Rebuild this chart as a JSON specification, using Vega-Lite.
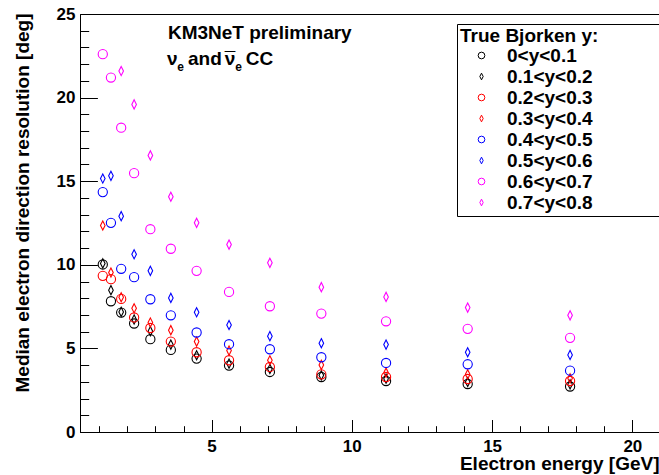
{
  "$schema": "https://vega.github.io/schema/vega-lite/v6.json",
  "width": 579,
  "height": 418,
  "autosize": {"type": "none"},
  "padding": {"left": 80, "top": 14, "right": 0, "bottom": 43},
  "background": "white",
  "config": {
    "view": {"stroke": "black", "strokeWidth": 1},
    "font": "Liberation Sans",
    "axis": {"labelFont": "Liberation Sans", "titleFont": "Liberation Sans", "labelFontWeight": "bold", "titleFontWeight": "bold", "labelColor": "black", "titleColor": "black", "tickColor": "black", "domainColor": "black", "grid": false, "labelFontSize": 17, "titleFontSize": 19}
  },
  "datasets": {
    "pts": [
      {"E": 1.122, "res": 10.02, "cat": "0<y<0.1"},
      {"E": 1.413, "res": 7.82, "cat": "0<y<0.1"},
      {"E": 1.778, "res": 7.14, "cat": "0<y<0.1"},
      {"E": 2.239, "res": 6.49, "cat": "0<y<0.1"},
      {"E": 2.818, "res": 5.55, "cat": "0<y<0.1"},
      {"E": 3.548, "res": 4.91, "cat": "0<y<0.1"},
      {"E": 4.467, "res": 4.39, "cat": "0<y<0.1"},
      {"E": 5.623, "res": 3.97, "cat": "0<y<0.1"},
      {"E": 7.079, "res": 3.59, "cat": "0<y<0.1"},
      {"E": 8.913, "res": 3.29, "cat": "0<y<0.1"},
      {"E": 11.22, "res": 3.05, "cat": "0<y<0.1"},
      {"E": 14.13, "res": 2.87, "cat": "0<y<0.1"},
      {"E": 17.78, "res": 2.72, "cat": "0<y<0.1"},
      {"E": 1.122, "res": 10.08, "cat": "0.1<y<0.2"},
      {"E": 1.413, "res": 8.48, "cat": "0.1<y<0.2"},
      {"E": 1.778, "res": 7.18, "cat": "0.1<y<0.2"},
      {"E": 2.239, "res": 6.73, "cat": "0.1<y<0.2"},
      {"E": 2.818, "res": 6.03, "cat": "0.1<y<0.2"},
      {"E": 3.548, "res": 5.23, "cat": "0.1<y<0.2"},
      {"E": 4.467, "res": 4.59, "cat": "0.1<y<0.2"},
      {"E": 5.623, "res": 4.09, "cat": "0.1<y<0.2"},
      {"E": 7.079, "res": 3.77, "cat": "0.1<y<0.2"},
      {"E": 8.913, "res": 3.39, "cat": "0.1<y<0.2"},
      {"E": 11.22, "res": 3.19, "cat": "0.1<y<0.2"},
      {"E": 14.13, "res": 2.99, "cat": "0.1<y<0.2"},
      {"E": 17.78, "res": 2.85, "cat": "0.1<y<0.2"},
      {"E": 1.122, "res": 9.34, "cat": "0.2<y<0.3"},
      {"E": 1.413, "res": 9.14, "cat": "0.2<y<0.3"},
      {"E": 1.778, "res": 7.96, "cat": "0.2<y<0.3"},
      {"E": 2.239, "res": 6.85, "cat": "0.2<y<0.3"},
      {"E": 2.818, "res": 6.22, "cat": "0.2<y<0.3"},
      {"E": 3.548, "res": 5.41, "cat": "0.2<y<0.3"},
      {"E": 4.467, "res": 4.77, "cat": "0.2<y<0.3"},
      {"E": 5.623, "res": 4.29, "cat": "0.2<y<0.3"},
      {"E": 7.079, "res": 3.89, "cat": "0.2<y<0.3"},
      {"E": 8.913, "res": 3.45, "cat": "0.2<y<0.3"},
      {"E": 11.22, "res": 3.29, "cat": "0.2<y<0.3"},
      {"E": 14.13, "res": 3.17, "cat": "0.2<y<0.3"},
      {"E": 17.78, "res": 3.05, "cat": "0.2<y<0.3"},
      {"E": 1.122, "res": 12.35, "cat": "0.3<y<0.4"},
      {"E": 1.413, "res": 9.54, "cat": "0.3<y<0.4"},
      {"E": 1.778, "res": 8.06, "cat": "0.3<y<0.4"},
      {"E": 2.239, "res": 7.40, "cat": "0.3<y<0.4"},
      {"E": 2.818, "res": 6.55, "cat": "0.3<y<0.4"},
      {"E": 3.548, "res": 6.09, "cat": "0.3<y<0.4"},
      {"E": 4.467, "res": 5.41, "cat": "0.3<y<0.4"},
      {"E": 5.623, "res": 4.87, "cat": "0.3<y<0.4"},
      {"E": 7.079, "res": 4.29, "cat": "0.3<y<0.4"},
      {"E": 8.913, "res": 4.01, "cat": "0.3<y<0.4"},
      {"E": 11.22, "res": 3.55, "cat": "0.3<y<0.4"},
      {"E": 14.13, "res": 3.45, "cat": "0.3<y<0.4"},
      {"E": 17.78, "res": 3.21, "cat": "0.3<y<0.4"},
      {"E": 1.122, "res": 14.35, "cat": "0.4<y<0.5"},
      {"E": 1.413, "res": 12.51, "cat": "0.4<y<0.5"},
      {"E": 1.778, "res": 9.76, "cat": "0.4<y<0.5"},
      {"E": 2.239, "res": 9.26, "cat": "0.4<y<0.5"},
      {"E": 2.818, "res": 7.94, "cat": "0.4<y<0.5"},
      {"E": 3.548, "res": 6.98, "cat": "0.4<y<0.5"},
      {"E": 4.467, "res": 5.95, "cat": "0.4<y<0.5"},
      {"E": 5.623, "res": 5.25, "cat": "0.4<y<0.5"},
      {"E": 7.079, "res": 4.95, "cat": "0.4<y<0.5"},
      {"E": 8.913, "res": 4.47, "cat": "0.4<y<0.5"},
      {"E": 11.22, "res": 4.13, "cat": "0.4<y<0.5"},
      {"E": 14.13, "res": 4.05, "cat": "0.4<y<0.5"},
      {"E": 17.78, "res": 3.67, "cat": "0.4<y<0.5"},
      {"E": 1.122, "res": 15.16, "cat": "0.5<y<0.6"},
      {"E": 1.413, "res": 15.32, "cat": "0.5<y<0.6"},
      {"E": 1.778, "res": 12.91, "cat": "0.5<y<0.6"},
      {"E": 2.239, "res": 10.63, "cat": "0.5<y<0.6"},
      {"E": 2.818, "res": 9.64, "cat": "0.5<y<0.6"},
      {"E": 3.548, "res": 8.02, "cat": "0.5<y<0.6"},
      {"E": 4.467, "res": 7.16, "cat": "0.5<y<0.6"},
      {"E": 5.623, "res": 6.40, "cat": "0.5<y<0.6"},
      {"E": 7.079, "res": 5.73, "cat": "0.5<y<0.6"},
      {"E": 8.913, "res": 5.31, "cat": "0.5<y<0.6"},
      {"E": 11.22, "res": 5.23, "cat": "0.5<y<0.6"},
      {"E": 14.13, "res": 4.77, "cat": "0.5<y<0.6"},
      {"E": 17.78, "res": 4.61, "cat": "0.5<y<0.6"},
      {"E": 1.122, "res": 22.6, "cat": "0.6<y<0.7"},
      {"E": 1.413, "res": 21.2, "cat": "0.6<y<0.7"},
      {"E": 1.778, "res": 18.2, "cat": "0.6<y<0.7"},
      {"E": 2.239, "res": 15.48, "cat": "0.6<y<0.7"},
      {"E": 2.818, "res": 12.13, "cat": "0.6<y<0.7"},
      {"E": 3.548, "res": 10.96, "cat": "0.6<y<0.7"},
      {"E": 4.467, "res": 9.64, "cat": "0.6<y<0.7"},
      {"E": 5.623, "res": 8.38, "cat": "0.6<y<0.7"},
      {"E": 7.079, "res": 7.52, "cat": "0.6<y<0.7"},
      {"E": 8.913, "res": 7.08, "cat": "0.6<y<0.7"},
      {"E": 11.22, "res": 6.62, "cat": "0.6<y<0.7"},
      {"E": 14.13, "res": 6.17, "cat": "0.6<y<0.7"},
      {"E": 17.78, "res": 5.63, "cat": "0.6<y<0.7"},
      {"E": 1.778, "res": 21.59, "cat": "0.7<y<0.8"},
      {"E": 2.239, "res": 19.59, "cat": "0.7<y<0.8"},
      {"E": 2.818, "res": 16.54, "cat": "0.7<y<0.8"},
      {"E": 3.548, "res": 14.07, "cat": "0.7<y<0.8"},
      {"E": 4.467, "res": 12.51, "cat": "0.7<y<0.8"},
      {"E": 5.623, "res": 11.21, "cat": "0.7<y<0.8"},
      {"E": 7.079, "res": 10.12, "cat": "0.7<y<0.8"},
      {"E": 8.913, "res": 8.66, "cat": "0.7<y<0.8"},
      {"E": 11.22, "res": 8.08, "cat": "0.7<y<0.8"},
      {"E": 14.13, "res": 7.44, "cat": "0.7<y<0.8"},
      {"E": 17.78, "res": 6.98, "cat": "0.7<y<0.8"}
    ],
    "notes": [
      {"E": 3.445, "res": 23.50, "label": "KM3NeT preliminary"},
      {"E": 3.41, "res": 21.94, "label": "ν"},
      {"E": 4.16, "res": 21.94, "label": "and"},
      {"E": 5.47, "res": 21.94, "label": "ν"},
      {"E": 5.47, "res": 21.94, "label": "¯"},
      {"E": 6.22, "res": 21.94, "label": "CC"}
    ],
    "subs": [
      {"E": 3.78, "res": 21.58, "label": "e"},
      {"E": 5.84, "res": 21.58, "label": "e"}
    ]
  },
  "encoding": {
    "x": {"field": "E", "type": "quantitative", "scale": {"domain": [0.31, 20.95], "nice": false, "zero": false},
      "axis": {"values": [1, 2, 3, 4, 5, 6, 7, 8, 9, 10, 11, 12, 13, 14, 15, 16, 17, 18, 19, 20],
        "labelExpr": "datum.value % 5 === 0 ? datum.label : ''",
        "tickSize": {"condition": {"test": "datum.value % 5 === 0", "value": -12.5}, "value": -6.3},
        "labelPadding": 19, "labelFlush": false, "labelOverlap": false, "labelBound": false,
        "title": "Electron energy [GeV]", "titleAnchor": "end", "titleY": 37, "titleBaseline": "alphabetic", "domainWidth": 1}},
    "y": {"field": "res", "type": "quantitative", "scale": {"domain": [0, 25], "nice": false},
      "axis": {"values": [0, 1, 2, 3, 4, 5, 6, 7, 8, 9, 10, 11, 12, 13, 14, 15, 16, 17, 18, 19, 20, 21, 22, 23, 24, 25],
        "labelExpr": "datum.value % 5 === 0 ? datum.label : ''",
        "tickSize": {"condition": {"test": "datum.value % 5 === 0", "value": -17.4}, "value": -8.7},
        "labelPadding": 22.4, "labelFlush": false, "labelOverlap": false, "labelBound": false,
        "title": "Median electron direction resolution [deg]", "titleAnchor": "end", "titleX": -52, "titleY": -1, "titleBaseline": "alphabetic", "domainWidth": 1}}
  },
  "layer": [
    {
      "data": {"name": "pts"},
      "mark": {"type": "point", "filled": false, "strokeWidth": 1.1, "size": 85, "opacity": 1},
      "encoding": {
        "color": {"field": "cat", "type": "nominal",
          "scale": {"domain": ["0<y<0.1", "0.1<y<0.2", "0.2<y<0.3", "0.3<y<0.4", "0.4<y<0.5", "0.5<y<0.6", "0.6<y<0.7", "0.7<y<0.8"],
            "range": ["#000000", "#000000", "#ff0000", "#ff0000", "#0000ff", "#0000ff", "#ff00ff", "#ff00ff"]},
          "legend": {"title": "True Bjorken y:\u2800\u2800\u2800\u2800\u2800", "orient": "none", "legendX": 377, "legendY": 10,
            "strokeColor": "black", "fillColor": "white", "padding": 3, "titleLimit": 1000,
            "titleFont": "Liberation Sans", "titleFontWeight": "bold", "titleFontSize": 19, "titleColor": "black", "titlePadding": 0,
            "labelFont": "Liberation Sans", "labelFontWeight": "bold", "labelFontSize": 19, "labelColor": "black", "labelOffset": 16,
            "symbolSize": 45, "symbolStrokeWidth": 1, "symbolOffset": 12, "rowPadding": 1}},
        "shape": {"field": "cat", "type": "nominal",
          "scale": {"domain": ["0<y<0.1", "0.1<y<0.2", "0.2<y<0.3", "0.3<y<0.4", "0.4<y<0.5", "0.5<y<0.6", "0.6<y<0.7", "0.7<y<0.8"],
            "range": ["circle", "M0,-1L0.5,0L0,1L-0.5,0Z", "circle", "M0,-1L0.5,0L0,1L-0.5,0Z", "circle", "M0,-1L0.5,0L0,1L-0.5,0Z", "circle", "M0,-1L0.5,0L0,1L-0.5,0Z"]},
          "legend": {"title": "True Bjorken y:\u2800\u2800\u2800\u2800\u2800", "orient": "none", "legendX": 377, "legendY": 10,
            "strokeColor": "black", "fillColor": "white", "padding": 3, "titleLimit": 1000,
            "titleFont": "Liberation Sans", "titleFontWeight": "bold", "titleFontSize": 19, "titleColor": "black", "titlePadding": 0,
            "labelFont": "Liberation Sans", "labelFontWeight": "bold", "labelFontSize": 19, "labelColor": "black", "labelOffset": 16,
            "symbolSize": 45, "symbolStrokeWidth": 1, "symbolOffset": 12, "rowPadding": 1}}
      }
    },
    {
      "data": {"name": "notes"},
      "mark": {"type": "text", "align": "left", "baseline": "alphabetic", "font": "Liberation Sans", "fontWeight": "bold", "fontSize": 19, "color": "black"},
      "encoding": {
        "text": {"field": "label"}
      }
    },
    {
      "data": {"name": "subs"},
      "mark": {"type": "text", "align": "left", "baseline": "alphabetic", "font": "Liberation Sans", "fontWeight": "bold", "fontSize": 12, "color": "black"},
      "encoding": {
        "text": {"field": "label"}
      }
    }
  ]
}
